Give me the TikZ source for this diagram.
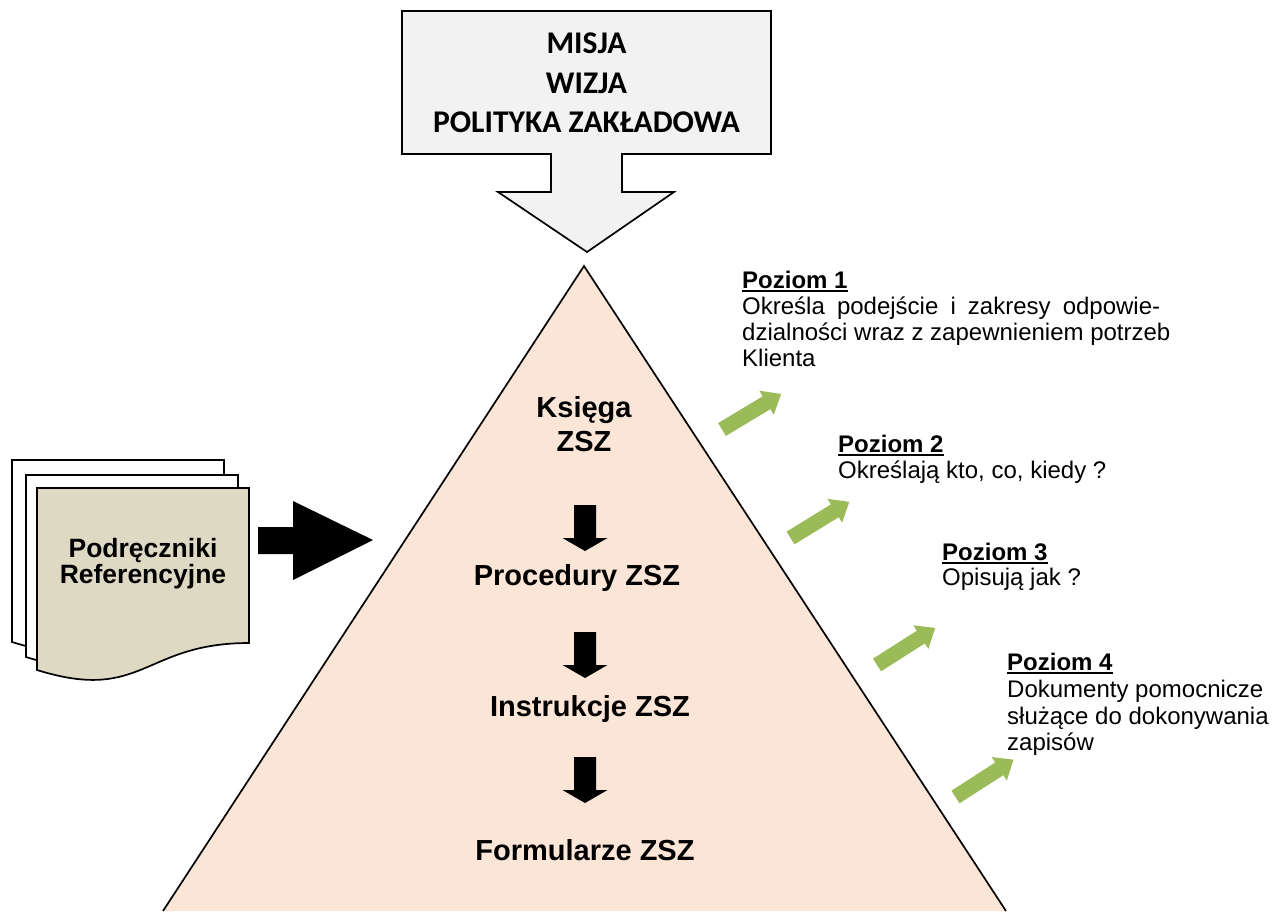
\documentclass[tikz,border=0pt]{standalone}
\usepackage{fontspec}
\setmainfont{Liberation Sans}
\newfontfamily\calibri{Carlito}
\definecolor{peach}{HTML}{FBE5D6}
\definecolor{boxgray}{HTML}{F2F2F2}
\definecolor{docfill}{HTML}{DDD9C3}
\definecolor{leafgreen}{HTML}{9BBB59}
\begin{document}
\begin{tikzpicture}[x=1pt,y=-1pt,
  outline/.style={draw=black, line width=1.7pt, line join=miter},
  pyrtext/.style={font=\fontsize{29}{34}\selectfont\bfseries, anchor=base, inner sep=0pt},
  toptext/.style={font=\calibri\fontsize{31.6}{38}\selectfont\bfseries, anchor=base, inner sep=0pt},
  doctext/.style={font=\fontsize{26.5}{30}\selectfont\bfseries, anchor=base, inner sep=0pt},
  lvltext/.style={font=\fontsize{24}{27}\selectfont, anchor=base west, inner sep=0pt},
  lvlhead/.style={font=\fontsize{24}{27}\selectfont\bfseries, anchor=base west, inner sep=0pt},
  uline/.style={line width=2pt},
  garrow/.pic={\fill[leafgreen] (0,-7.5) -- (52,-7.5) -- (52,-14) -- (69,0) -- (52,14) -- (52,7.5) -- (0,7.5) -- cycle;},
  downarrow/.pic={\fill[black] (-11,0) -- (11,0) -- (11,33) -- (22.5,33) -- (0,46) -- (-22.5,33) -- (-11,33) -- cycle;},
  docpage/.pic={\filldraw[outline, fill=#1] (0,0) -- (212,0) -- (212,155) .. controls (106,155) and (106,215) .. (0,182) -- cycle;}
]
\useasboundingbox (0,0) rectangle (1279,911);

% pyramid
\fill[peach] (163,911) -- (584,266) -- (1006,911) -- cycle;
\draw[line width=1.7pt, line join=miter] (163,911) -- (584,266) -- (1006,911);

% top callout arrow
\filldraw[outline, fill=boxgray] (402,11) -- (771,11) -- (771,154) -- (622,154) -- (622,192) -- (674,192) -- (587,252) -- (498,192) -- (551,192) -- (551,154) -- (402,154) -- cycle;
\node[toptext] (misja) at (586.5,53) {MISJA};
\node[toptext] (wizja) at (586.5,93) {WIZJA};
\node[toptext] (polityka) at (586.5,132) {POLITYKA ZAKŁADOWA};

% pyramid texts
\node[pyrtext] (ksiega) at (584,417) {Księga};
\node[pyrtext] (ksiegazsz) at (584,451) {ZSZ};
\node[pyrtext] (procedury) at (577,585) {Procedury ZSZ};
\node[pyrtext] (instrukcje) at (590,716) {Instrukcje ZSZ};
\node[pyrtext] (formularze) at (585,860) {Formularze ZSZ};

% down arrows
\pic at (585,505) {downarrow};
\pic at (585,632) {downarrow};
\pic at (585,757) {downarrow};

% document stack
\pic at (12,460) {docpage=white};
\pic at (26,475) {docpage=white};
\pic at (37,488) {docpage=docfill};
\node[doctext] (podr) at (143,557) {Podręczniki};
\node[doctext] (ref) at (143,583) {Referencyjne};

% big black arrow
\fill[black] (258,527) -- (293,527) -- (293,501) -- (373,540) -- (293,580) -- (293,554) -- (258,554) -- cycle;

% green arrows
\pic[rotate=31] at (722,429.5) {garrow};
\pic[rotate=31.6] at (790.5,538) {garrow};
\pic[rotate=32.5] at (877,665) {garrow};
\pic[rotate=32.8] at (955.5,797) {garrow};

% level 1
\node[lvlhead] (p1) at (742,288) {Poziom 1};
\draw[uline] ([yshift=-3pt]p1.base west) -- ([yshift=-3pt]p1.base east);
\node[lvltext] (p1a) at (742,314) {\makebox[418pt][s]{Określa podejście i zakresy odpowie-}};
\node[lvltext] (p1b) at (742,340) {dzialności wraz z zapewnieniem potrzeb};
\node[lvltext] (p1c) at (742,366) {Klienta};

% level 2
\node[lvlhead] (p2) at (838,452) {Poziom 2};
\draw[uline] ([yshift=-3pt]p2.base west) -- ([yshift=-3pt]p2.base east);
\node[lvltext] (p2a) at (838,478) {Określają kto, co, kiedy ?};

% level 3
\node[lvlhead] (p3) at (942,560) {Poziom 3};
\draw[uline] ([yshift=-3pt]p3.base west) -- ([yshift=-3pt]p3.base east);
\node[lvltext] (p3a) at (942,585) {Opisują jak ?};

% level 4
\node[lvlhead] (p4) at (1007,670) {Poziom 4};
\draw[uline] ([yshift=-3pt]p4.base west) -- ([yshift=-3pt]p4.base east);
\node[lvltext] (p4a) at (1007,697) {Dokumenty pomocnicze};
\node[lvltext] (p4b) at (1007,724) {służące do dokonywania};
\node[lvltext] (p4c) at (1007,750) {zapisów};
\end{tikzpicture}
\end{document}
